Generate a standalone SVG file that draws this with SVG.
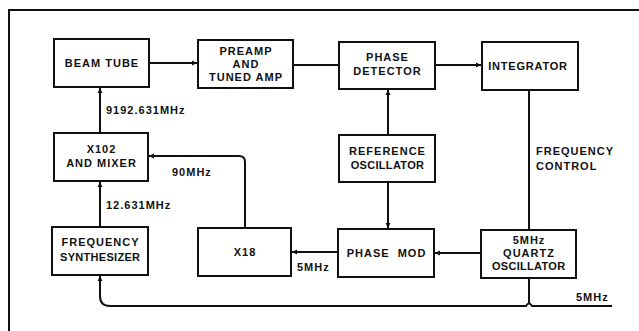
<svg xmlns="http://www.w3.org/2000/svg" width="639" height="331" viewBox="0 0 639 331">
<style>
.box{fill:#fff;stroke:#111;stroke-width:2}
.ln{fill:none;stroke:#111;stroke-width:2}
text{font-family:"Liberation Sans",Arial,sans-serif;font-weight:bold;font-size:11px;letter-spacing:1px;fill:#111;text-anchor:middle}
.lab{text-anchor:start}
.tight{letter-spacing:0.3px}
</style>
<defs>
<marker id="ah" markerWidth="6" markerHeight="6" refX="5" refY="3" orient="auto" markerUnits="userSpaceOnUse">
<path d="M0,0.5 L5,3 L0,5.5 Z" fill="#111"/>
</marker>
</defs>
<rect width="639" height="331" fill="#fff"/>
<path class="ln" d="M9,331 V10 H639"/>
<g id="connectors">
<path class="ln" d="M149,63 H197" marker-end="url(#ah)"/>
<path class="ln" d="M293,65 H338"/>
<path class="ln" d="M435,65 H481" marker-end="url(#ah)"/>
<path class="ln" d="M529,90 V230"/>
<path class="ln" d="M388,135 V90" marker-end="url(#ah)"/>
<path class="ln" d="M388,182 V228" marker-end="url(#ah)"/>
<path class="ln" d="M481,253 H435" marker-end="url(#ah)"/>
<path class="ln" d="M338,252 H292" marker-end="url(#ah)"/>
<path class="ln" d="M245,228 V162 Q245,156 239,156 H149" marker-end="url(#ah)"/>
<path class="ln" d="M100,227 V182" marker-end="url(#ah)"/>
<path class="ln" d="M100,133 V88" marker-end="url(#ah)"/>
<path class="ln" d="M529,278 V303"/>
<path class="ln" d="M612,306 H532 Q529,301 526,306 H110 Q100,306 100,296 V276" marker-end="url(#ah)"/>
<text class="lab" x="106" y="114">9192.631MHz</text>
<text class="lab" x="106" y="209">12.631MHz</text>
<text class="lab" x="172" y="176">90MHz</text>
<text class="lab" x="297" y="271">5MHz</text>
<text class="lab" x="576" y="301">5MHz</text>
<text class="lab" x="536" y="155">FREQUENCY</text>
<text class="lab" x="536" y="170">CONTROL</text>
</g>
<g id="beam-tube"><rect class="box" x="54" y="39" width="95" height="48"/><text x="102" y="67">BEAM TUBE</text></g>
<g id="preamp"><rect class="box" x="198" y="40" width="95" height="48"/><text x="246" y="55">PREAMP</text><text x="246" y="68">AND</text><text x="246" y="81">TUNED AMP</text></g>
<g id="phase-detector"><rect class="box" x="339" y="42" width="96" height="47"/><text x="387.5" y="61">PHASE</text><text x="387.5" y="75">DETECTOR</text></g>
<g id="integrator"><rect class="box" x="482" y="42" width="96" height="48"/><text x="528" y="70" class="tight" style="letter-spacing:0.8px">INTEGRATOR</text></g>
<g id="x102-mixer"><rect class="box" x="54" y="133" width="94" height="48"/><text x="101.5" y="153">X102</text><text x="101.5" y="167">AND MIXER</text></g>
<g id="reference-oscillator"><rect class="box" x="339" y="135" width="96" height="47"/><text x="387.5" y="155">REFERENCE</text><text x="387.5" y="169" class="tight">OSCILLATOR</text></g>
<g id="frequency-synthesizer"><rect class="box" x="52" y="227" width="96" height="48"/><text x="100.5" y="246">FREQUENCY</text><text x="100.2" y="261" class="tight">SYNTHESIZER</text></g>
<g id="x18"><rect class="box" x="198" y="228" width="93" height="48"/><text x="245" y="256">X18</text></g>
<g id="phase-mod"><rect class="box" x="338" y="229" width="96" height="48"/><text x="386.5" y="257" xml:space="preserve">PHASE  MOD</text></g>
<g id="quartz-oscillator"><rect class="box" x="481" y="230" width="95" height="48"/><text x="529" y="244">5MHz</text><text x="529" y="257">QUARTZ</text><text x="528.7" y="270" class="tight">OSCILLATOR</text></g>
</svg>
